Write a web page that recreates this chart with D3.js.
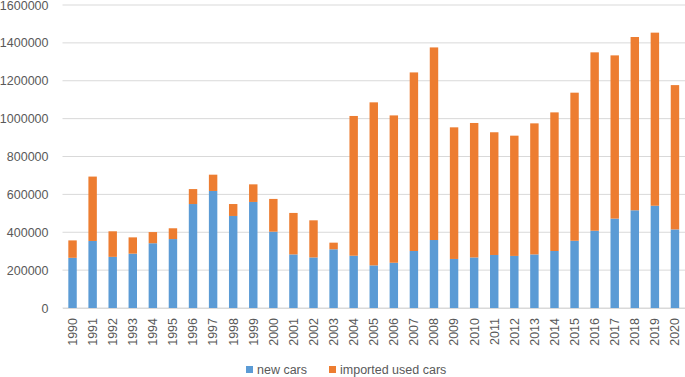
<!DOCTYPE html>
<html>
<head>
<meta charset="utf-8">
<script src="https://cdn.jsdelivr.net/npm/d3@7"></script>
<style>
  html, body { margin: 0; padding: 0; background: #fff; }
  svg text { font-family: "Liberation Sans", Arial, sans-serif; fill: #595959; }
</style>
</head>
<body>
<svg id="chart" width="685" height="377"></svg>
<script>
// years on the x axis
const YEARS = d3.range(1990, 2021).map(String);

// new cars registered per year
const NEW_CARS = [
  265000, 354000, 270000, 287000, 342000, 364000, 549000, 618000, 486000, 560000,
  403000, 283000, 267000, 310000, 276000, 225000, 239000, 301000, 359000, 259000,
  267000, 280000, 275000, 283000, 301000, 355000, 408000, 472000, 516000, 540000,
  415000
];

// totals (new + imported used)
const TOTALS = [
  357000, 694000, 405000, 373000, 401000, 421000, 628000, 704000, 549000, 653000,
  576000, 502000, 463000, 345000, 1014000, 1086000, 1017000, 1244000, 1376000, 954000,
  977000, 928000, 910000, 975000, 1033000, 1137000, 1350000, 1334000, 1431000, 1454000,
  1177000
];

const USED_CARS = TOTALS.map((t, i) => t - NEW_CARS[i]);

const Y_TICKS = [0, 200000, 400000, 600000, 800000, 1000000, 1200000, 1400000, 1600000];

const SERIES = [
  { key: 'newCars', label: 'new cars', color: '#5B9BD5' },
  { key: 'usedCars', label: 'imported used cars', color: '#ED7D31' }
];

const MARGIN = { top: 5, right: 0, bottom: 69, left: 62.5 };
const W = 685, H = 377;
const innerW = W - MARGIN.left - MARGIN.right;
const innerH = H - MARGIN.top - MARGIN.bottom;

const rows = YEARS.map((y, i) => ({ year: y, newCars: NEW_CARS[i], usedCars: USED_CARS[i] }));

const svg = d3.select('#chart');
const g = svg.append('g').attr('transform', `translate(${MARGIN.left},${MARGIN.top})`);

const x = d3.scaleBand().domain(YEARS).range([0, innerW]).paddingInner(0.58).paddingOuter(0.29);
const y = d3.scaleLinear().domain([0, 1600000]).range([innerH, 0]);

// gridlines
g.append('g')
  .selectAll('line')
  .data(Y_TICKS)
  .join('line')
  .attr('x1', 0).attr('x2', innerW)
  .attr('y1', d => y(d)).attr('y2', d => y(d))
  .attr('stroke', '#D9D9D9')
  .attr('stroke-width', 1);

// y axis labels (no domain line)
const yAxis = g.append('g')
  .call(d3.axisLeft(y).tickValues(Y_TICKS).tickFormat(d3.format('d')).tickSize(0).tickPadding(14));
yAxis.select('.domain').remove();
yAxis.selectAll('text').style('font-size', '12.5px').style('fill', '#595959');

// stacked bars
const stack = d3.stack().keys(SERIES.map(s => s.key))(rows);
g.append('g')
  .selectAll('g')
  .data(stack)
  .join('g')
  .attr('fill', (d, i) => SERIES[i].color)
  .selectAll('rect')
  .data(d => d)
  .join('rect')
  .attr('x', d => x(d.data.year))
  .attr('width', x.bandwidth())
  .attr('y', d => y(d[1]))
  .attr('height', d => y(d[0]) - y(d[1]));

// x axis
const xAxis = g.append('g')
  .attr('transform', `translate(0,${innerH})`)
  .call(d3.axisBottom(x).tickSize(0).tickPadding(0));
xAxis.select('.domain').attr('stroke', '#D9D9D9');
xAxis.selectAll('text')
  .style('font-size', '12.5px')
  .style('fill', '#595959')
  .attr('text-anchor', 'end')
  .attr('transform', 'rotate(-90)')
  .attr('x', -10)
  .attr('y', 0)
  .attr('dy', '0.35em');

// legend
const legend = svg.append('g').attr('transform', 'translate(246,369.5)');
const items = [{ dx: 0 }, { dx: 83 }];
SERIES.forEach((s, i) => {
  const it = legend.append('g').attr('transform', `translate(${items[i].dx},0)`);
  it.append('rect').attr('x', 0).attr('y', -3.5).attr('width', 7).attr('height', 7).attr('fill', s.color);
  it.append('text').attr('x', 11).attr('y', 0).attr('dy', '0.35em')
    .style('font-size', '12.5px').text(s.label);
});
</script>
</body>
</html>
